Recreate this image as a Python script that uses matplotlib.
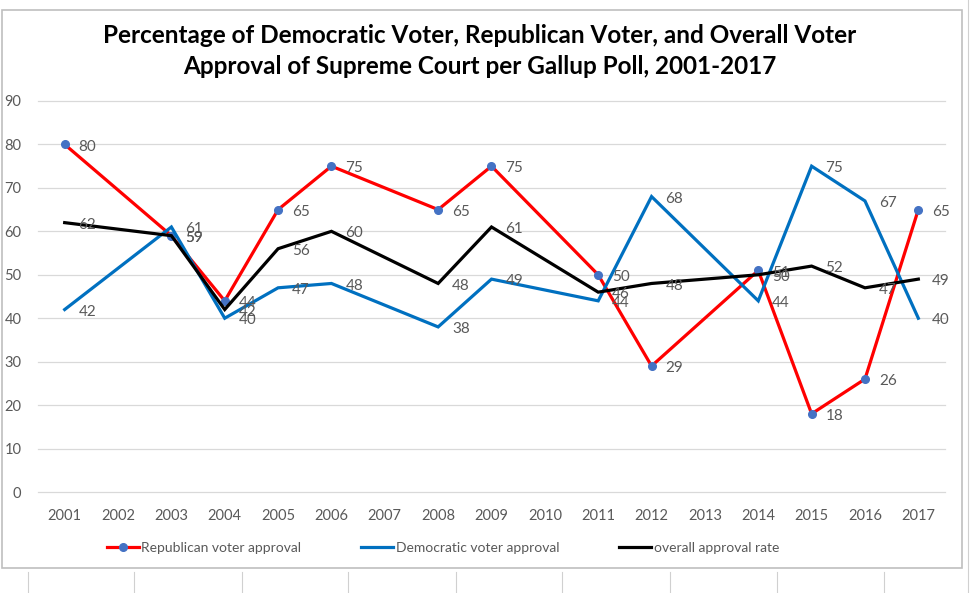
import numpy as np
import matplotlib.pyplot as plt
from matplotlib.patches import Rectangle
from matplotlib.lines import Line2D

years = [str(y) for y in range(2001, 2018)]
# None = no poll value for that year (Excel connects across the gap)
republican = [80, None, 59, 44, 65, 75, None, 65, 75, None, 50, 29, None, 51, 18, 26, 65]
democratic = [42, None, 61, 40, 47, 48, None, 38, 49, None, 44, 68, None, 44, 75, 67, 40]
overall = [62, None, 59, 42, 56, 60, None, 48, 61, None, 46, 48, None, 50, 52, 47, 49]

series = [
    ("Republican voter approval", republican, "#FF0000", True),
    ("Democratic voter approval", democratic, "#0070C0", False),
    ("overall approval rate", overall, "#000000", False),
]

GRAY = "#595959"
plt.rcParams["font.family"] = ["Lato", "DejaVu Sans"]

fig = plt.figure(figsize=(9.74, 5.93), dpi=100)
ax = fig.add_axes([38 / 974, 1 - 492 / 593, (945 - 38) / 974, (492 - 101) / 593])

for name, vals, color, markers in series:
    xs = [i for i, v in enumerate(vals) if v is not None]
    ys = [v for v in vals if v is not None]
    ax.plot(xs, ys, color=color, lw=2.3, solid_joinstyle="miter", zorder=3)
    if markers:
        ax.plot(xs, ys, ls="none", marker="o", ms=5.5, color="#4472C4", zorder=3)
    for x, y in zip(xs, ys):
        ax.annotate(str(y), (x, y), xytext=(10, -1.5), textcoords="offset points",
                    ha="left", va="center", fontsize=11, color=GRAY, zorder=4)

ax.set_xlim(-0.5, len(years) - 0.5)
ax.set_ylim(0, 90)
ax.set_xticks(range(len(years)))
ax.set_xticklabels(years)
ax.set_yticks(range(0, 91, 10))
ax.tick_params(length=0, labelsize=10.5, labelcolor=GRAY)
ax.tick_params(axis="x", pad=12)
ax.tick_params(axis="y", pad=12)
ax.grid(axis="y", color="#D9D9D9", lw=0.9)
for gl in ax.get_ygridlines():
    gl.set_clip_on(False)
ax.set_axisbelow(True)
for s in ax.spines.values():
    s.set_visible(False)

fig.text(480 / 974, 1 - 51 / 593,
         "Percentage of Democratic Voter, Republican Voter, and Overall Voter\n"
         "Approval of Supreme Court per Gallup Poll, 2001-2017",
         ha="center", va="center", fontsize=17.5, fontweight="bold",
         linespacing=1.42, color="black")

handles = [
    Line2D([], [], color="#FF0000", lw=2.3, marker="o", ms=5.5,
           markerfacecolor="#4472C4", markeredgecolor="#4472C4"),
    Line2D([], [], color="#0070C0", lw=2.3),
    Line2D([], [], color="#000000", lw=2.3),
]
leg = fig.legend(handles, [s[0] for s in series], loc="center",
                 bbox_to_anchor=(443 / 974, 1 - 548 / 593), ncol=3, frameon=False,
                 fontsize=10, handlelength=2.3, handletextpad=0.2, columnspacing=4.3)
for t in leg.get_texts():
    t.set_color(GRAY)

# chart area border and the spreadsheet cells around it
fig.patches.append(Rectangle((2 / 974, 1 - 568 / 593), 960 / 974, 558 / 593,
                             transform=fig.transFigure, fill=False,
                             edgecolor="#BFBFBF", lw=1.2))
for xc in [28, 134, 242, 348, 456, 562, 670, 777, 884]:
    fig.add_artist(Line2D([xc / 974, xc / 974], [0, 1 - 572 / 593],
                          transform=fig.transFigure, color="#D0D0D0", lw=0.8))
fig.add_artist(Line2D([968 / 974, 968 / 974], [0, 1],
                      transform=fig.transFigure, color="#D0D0D0", lw=0.8))

fig.savefig("out.png", dpi=100)
